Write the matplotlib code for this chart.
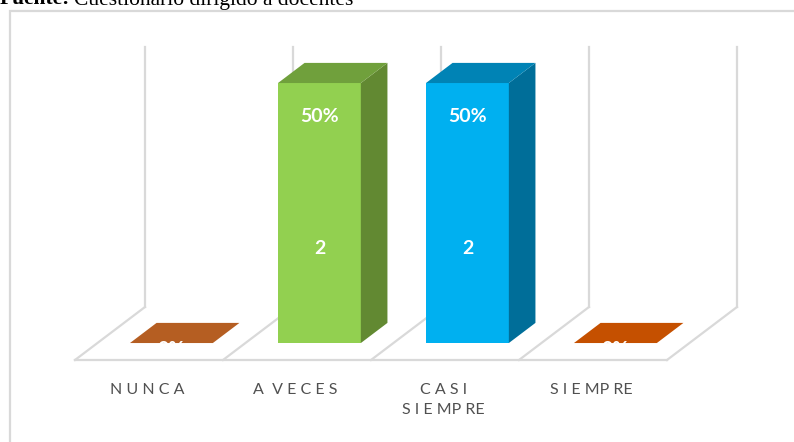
import matplotlib
matplotlib.use("Agg")
import matplotlib.pyplot as plt
from matplotlib.patches import Polygon, Rectangle

# data
categories = ["N U N C A", "A  V E C E S", "C A S I\nS I E MP RE", "S I E MP RE"]
counts = [0, 2, 2, 0]
percents = ["0%", "50%", "50%", "0%"]
axis_max = 2

# colours: front, side, top
front_cols = ["#B55E22", "#92D050", "#00B0F0", "#C55000"]
side_cols = ["#8A4518", "#628932", "#006E99", "#963D00"]
top_cols = ["#B55E22", "#70A03C", "#0083B5", "#C55000"]
grid_col = "#D9D9D9"

W, H = 794, 442
fig = plt.figure(figsize=(W / 100, H / 100), dpi=100)
ax = fig.add_axes([0, 0, 1, 1])

# one category = 148 px, one count = 130 px, floor front at px (75, 360)
cat_px, val_px = 148.0, 130.0
ax.set_xlim(-75 / cat_px, (W - 75) / cat_px)
ax.set_ylim((360 - H) / val_px, 360 / val_px)
ax.axis("off")

# oblique depth of the floor
DX = 70 / cat_px
DY = 53 / val_px
f0, f1 = 0.32, 0.70     # bar depth inside the floor
bw = 0.56               # bar width

n = len(categories)

# floor and back wall lines
ax.plot([0, n], [0, 0], color=grid_col, lw=1.6, zorder=1)
for i in range(n + 1):
    ax.plot([i, i + DX], [0, DY], color=grid_col, lw=1.6, zorder=1)
    ax.plot([i + DX, i + DX], [DY, DY + axis_max], color=grid_col, lw=1.6, zorder=1)

# bars
for i, v in enumerate(counts):
    x0 = i + 0.5 - bw / 2 + f0 * DX
    y0 = f0 * DY
    ddx = (f1 - f0) * DX
    ddy = (f1 - f0) * DY
    x1 = x0 + bw
    top = y0 + v
    if v > 0:
        ax.add_patch(Rectangle((x0, y0), bw, v, facecolor=front_cols[i],
                               edgecolor="none", zorder=2))
        ax.add_patch(Polygon([(x1, y0), (x1 + ddx, y0 + ddy), (x1 + ddx, top + ddy),
                              (x1, top)], closed=True, facecolor=side_cols[i],
                             edgecolor="none", zorder=2))
    ax.add_patch(Polygon([(x0, top), (x1, top), (x1 + ddx, top + ddy),
                          (x0 + ddx, top + ddy)], closed=True, facecolor=top_cols[i],
                         edgecolor="none", zorder=2))

    cx = x0 + bw / 2
    if v > 0:
        ax.text(cx, y0 + 0.87 * v, percents[i], color="white", fontsize=14,
                fontweight="bold", family="Lato", ha="center", va="center", zorder=3)
        ax.text(cx, y0 + 0.365 * v, str(v), color="white", fontsize=14,
                fontweight="bold", family="Lato", ha="center", va="center", zorder=3)
    else:
        # label sits mostly below the flat bar, only its top shows on it
        ax.text(cx, y0 - 0.05, percents[i], color="white", fontsize=14,
                fontweight="bold", family="Lato", ha="center", va="center", zorder=3)

    # category label
    ax.text(i + 0.5 - 0.01, -0.175, categories[i], color="#505050", fontsize=11.5,
            family="Lato", ha="center", va="top", linespacing=1.55, zorder=3)

# chart border
fig.patches.append(Rectangle((10 / W, -0.05), 1.0, 1 - 11 / H + 0.05,
                             transform=fig.transFigure, fill=False,
                             edgecolor=grid_col, lw=1.6))

# header (cut at the top in the source)
base_y = 1 - 4.5 / H
t1 = fig.text(0.0, base_y, "Fuente:", family="Liberation Serif",
              fontweight="bold", fontsize=15.5, va="baseline", ha="left")
fig.canvas.draw()
bb = t1.get_window_extent()
fig.text(bb.x1 / W + 4 / W, base_y, "Cuestionario dirigido a docentes",
         family="Liberation Serif", fontsize=15.5, va="baseline", ha="left")

fig.savefig("out.png", dpi=100)
